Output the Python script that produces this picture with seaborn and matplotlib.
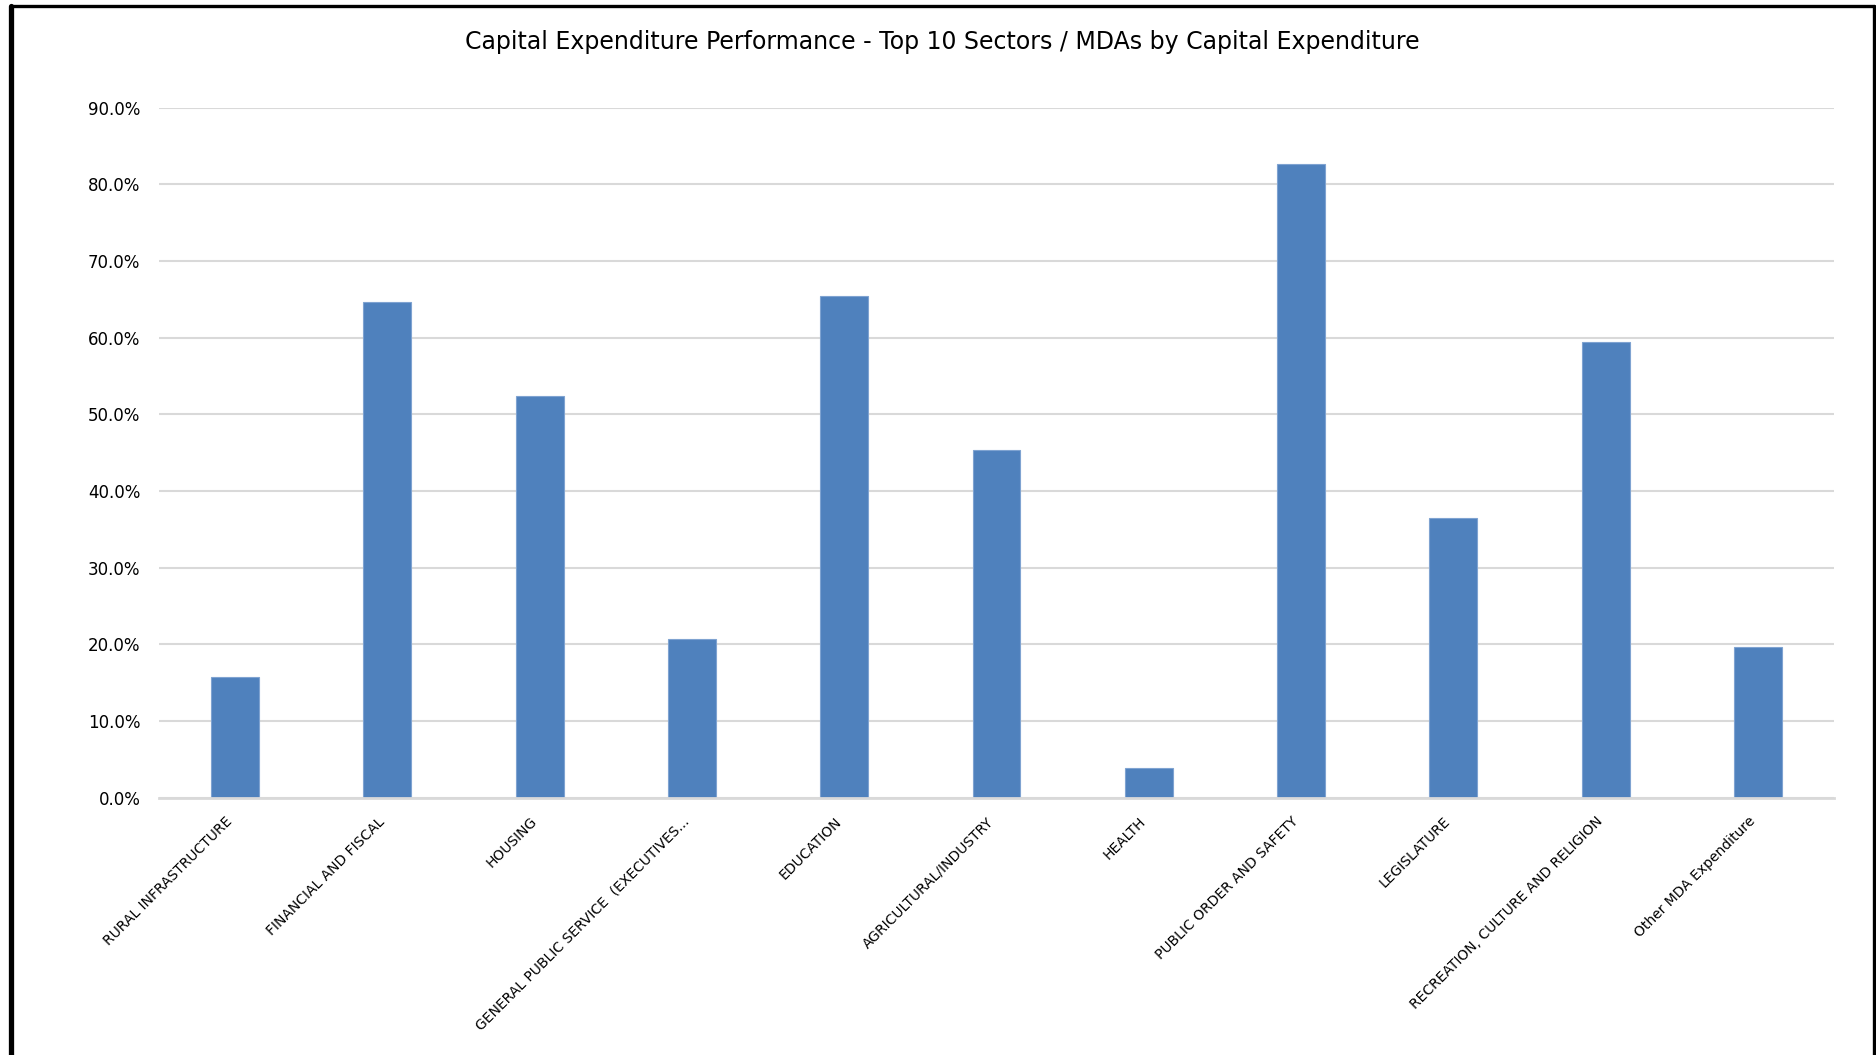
import matplotlib
matplotlib.use("Agg")
import matplotlib.pyplot as plt
from matplotlib.lines import Line2D
from matplotlib.ticker import PercentFormatter, MultipleLocator
import seaborn as sns
import pandas as pd

sectors = [
    "RURAL INFRASTRUCTURE",
    "FINANCIAL AND FISCAL",
    "HOUSING",
    "GENERAL PUBLIC SERVICE  (EXECUTIVES...",
    "EDUCATION",
    "AGRICULTURAL/INDUSTRY",
    "HEALTH",
    "PUBLIC ORDER AND SAFETY",
    "LEGISLATURE",
    "RECREATION, CULTURE AND RELIGION",
    "Other MDA Expenditure",
]
performance_pct = [15.8, 64.6, 52.4, 20.7, 65.5, 45.4, 3.9, 82.7, 36.5, 59.4, 19.6]

title = "Capital Expenditure Performance - Top 10 Sectors / MDAs by Capital Expenditure"

df = pd.DataFrame({"sector": sectors, "performance": performance_pct})

sns.set_theme(style="white")
plt.rcParams["font.family"] = ["DejaVu Sans"]

fig = plt.figure(figsize=(18.76, 10.55), dpi=100)
ax = fig.add_axes([159 / 1876, 1 - 797.7 / 1055, 1675 / 1876, 690 / 1055])

sns.barplot(data=df, x="sector", y="performance", color="#4F81BD",
            width=0.315, saturation=1, edgecolor="#7FA3D1", linewidth=0.8, ax=ax)

ax.set_ylim(0, 90)
ax.yaxis.set_major_locator(MultipleLocator(10))
ax.yaxis.set_major_formatter(PercentFormatter(xmax=100, decimals=1))
ax.grid(axis="y", color="#D9D9D9", linewidth=1.5)
ax.set_axisbelow(True)
ax.set_xlabel("")
ax.set_ylabel("")

for side in ("left", "right", "top"):
    ax.spines[side].set_visible(False)
ax.spines["bottom"].set_color("#D9D9D9")
ax.spines["bottom"].set_linewidth(2)

ax.tick_params(axis="y", length=0, pad=13.5, labelsize=12, labelcolor="black")
ax.tick_params(axis="x", length=0, pad=12, labelsize=10, labelcolor="black")
for lbl in ax.get_xticklabels():
    lbl.set_rotation(45)
    lbl.set_ha("right")

fig.text(942 / 1876, 1 - 42 / 1055, title, ha="center", va="center",
         fontsize=17, color="black")

# frame around the chart area (left, top and right edges)
fig.add_artist(Line2D([10.5 / 1876, 10.5 / 1876], [0, 1 - 5.5 / 1055],
                      transform=fig.transFigure, color="black", linewidth=3.8))
fig.add_artist(Line2D([10.5 / 1876, 1874 / 1876], [1 - 5.5 / 1055, 1 - 5.5 / 1055],
                      transform=fig.transFigure, color="black", linewidth=2.4))
fig.add_artist(Line2D([1874 / 1876, 1874 / 1876], [0, 1 - 5.5 / 1055],
                      transform=fig.transFigure, color="black", linewidth=2.4))

fig.savefig("out.png", dpi=100, facecolor="white")
